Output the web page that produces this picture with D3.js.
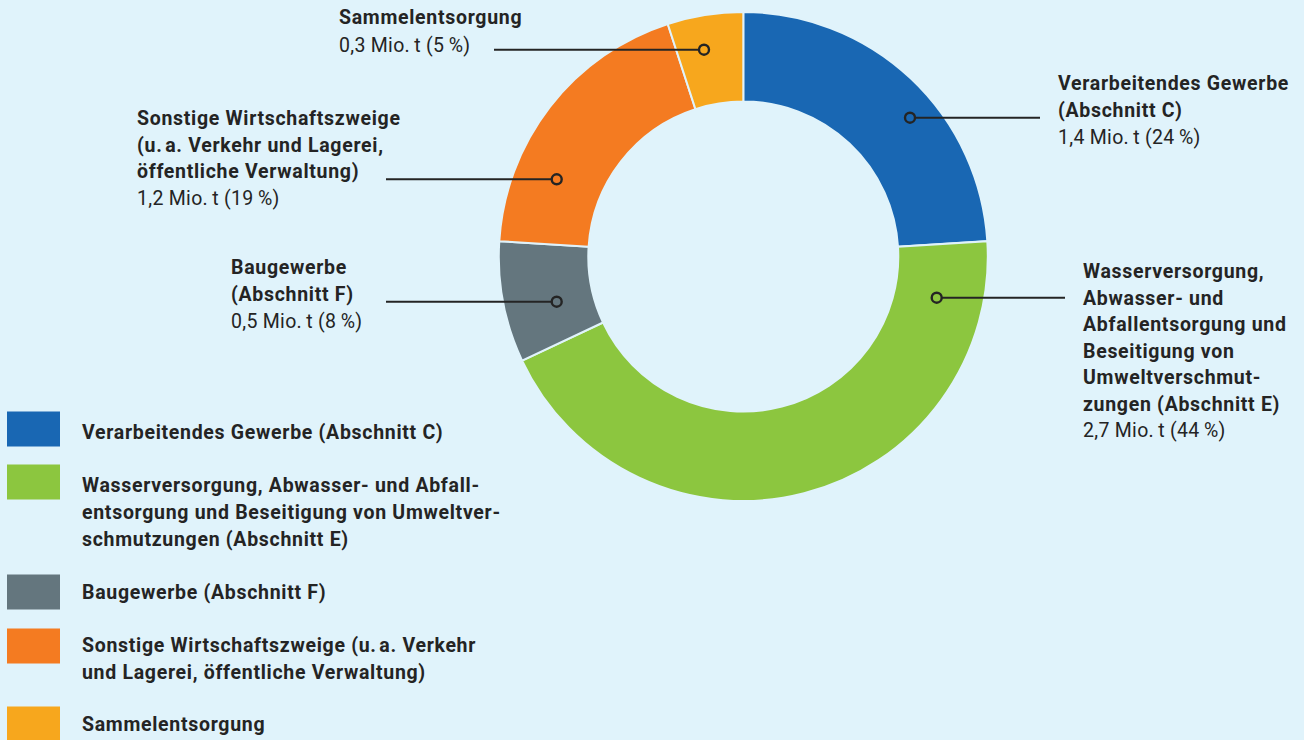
<!DOCTYPE html>
<html><head><meta charset="utf-8">
<script src="https://cdn.jsdelivr.net/npm/d3@7"></script>
<style>
html,body{margin:0;padding:0;background:#e0f3fb;}
svg{display:block;}
text{font-family:Roboto,"Noto Sans",sans-serif;fill:#242424;}
.b{font-weight:700;letter-spacing:0.7px;}
.r{font-weight:400;letter-spacing:0.3px;}
</style></head><body>
<svg id="c" width="1304" height="740"></svg>
<script>
const categories = ["Verarbeitendes Gewerbe (Abschnitt C)","Wasserversorgung, Abwasser- und Abfallentsorgung und Beseitigung von Umweltverschmutzungen (Abschnitt E)","Baugewerbe (Abschnitt F)","Sonstige Wirtschaftszweige (u.a. Verkehr und Lagerei, öffentliche Verwaltung)","Sammelentsorgung"];
const tonnes = [1.4, 2.7, 0.5, 1.2, 0.3];
const shares = [24, 44, 8, 19, 5];
const colors = ["#1967b3","#8cc63f","#64767e","#f47b21","#f7a71d"];
const calloutLines = [
  ["Verarbeitendes Gewerbe","(Abschnitt C)"],
  ["Wasserversorgung,","Abwasser- und","Abfallentsorgung und","Beseitigung von","Umweltverschmut-","zungen (Abschnitt E)"],
  ["Baugewerbe","(Abschnitt F)"],
  ["Sonstige Wirtschaftszweige","(u.\u200Aa. Verkehr und Lagerei,","öffentliche Verwaltung)"],
  ["Sammelentsorgung"]
];
const legendLines = [
  ["Verarbeitendes Gewerbe (Abschnitt C)"],
  ["Wasserversorgung, Abwasser- und Abfall-","entsorgung und Beseitigung von Umweltver-","schmutzungen (Abschnitt E)"],
  ["Baugewerbe (Abschnitt F)"],
  ["Sonstige Wirtschaftszweige (u.\u200Aa. Verkehr","und Lagerei, öffentliche Verwaltung)"],
  ["Sammelentsorgung"]
];
const fmt = v => String(v).replace(".", ",");
const valueText = (i) => `${fmt(tonnes[i])} Mio.\u2009t (${shares[i]}\u2009%)`;

const svg = d3.select("#c");
const cx = 743.3, cy = 256.5, R = 244.5, r0 = 155;
const data = categories.map((c,i)=>({c, share: shares[i], color: colors[i], i}));
const pie = d3.pie().value(d=>d.share).sort(null);
const arc = d3.arc().innerRadius(r0).outerRadius(R);
const g = svg.append("g").attr("transform",`translate(${cx},${cy})`);
g.selectAll("path").data(pie(data)).join("path")
  .attr("d",arc).attr("fill",d=>d.data.color)
  .attr("stroke","#e0f3fb").attr("stroke-width",2);

// callout layout: dot position (relative to center), line end x, text x, first baseline, line height
const callouts = [
  {dot:[166.7,-138.8], lineX:1040, tx:1058, ty:90, lh:27},
  {dot:[193.4,41.2], lineX:1065, tx:1083, ty:278, lh:26.5},
  {dot:[-186.6,45.2], lineX:386, tx:231, ty:274, lh:27},
  {dot:[-186.6,-77.2], lineX:386, tx:137, ty:125, lh:26.7},
  {dot:[-39.3,-206.8], lineX:494, tx:339, ty:23.5, lh:28}
];
const fs = 19.5;
callouts.forEach((co,i)=>{
  const dx = cx+co.dot[0], dy = cy+co.dot[1];
  svg.append("line").attr("x1",co.lineX).attr("x2",dx).attr("y1",dy).attr("y2",dy)
    .attr("stroke","#242424").attr("stroke-width",2);
  svg.append("circle").attr("cx",dx).attr("cy",dy).attr("r",5)
    .attr("fill",colors[i]).attr("stroke","#242424").attr("stroke-width",2.4);
  const t = svg.append("text").attr("font-size",fs);
  calloutLines[i].forEach((ln,k)=>{
    t.append("tspan").attr("class","b").attr("x",co.tx).attr("y",co.ty+k*co.lh).text(ln);
  });
  t.append("tspan").attr("class","r").attr("x",co.tx).attr("y",co.ty+calloutLines[i].length*co.lh).text(valueText(i));
});

// legend
const legY = [429, 482, 592, 646, 724];
const legBase = [438.5, 491.5, 598.5, 651.7, 730.5];
legendLines.forEach((lines,i)=>{
  svg.append("rect").attr("x",7).attr("y",legY[i]-17.5).attr("width",53).attr("height",35).attr("fill",colors[i]);
  const t = svg.append("text").attr("font-size",fs).attr("class","b");
  lines.forEach((ln,k)=>{
    t.append("tspan").attr("x",82).attr("y",legBase[i]+k*27).text(ln);
  });
});
</script></body></html>
